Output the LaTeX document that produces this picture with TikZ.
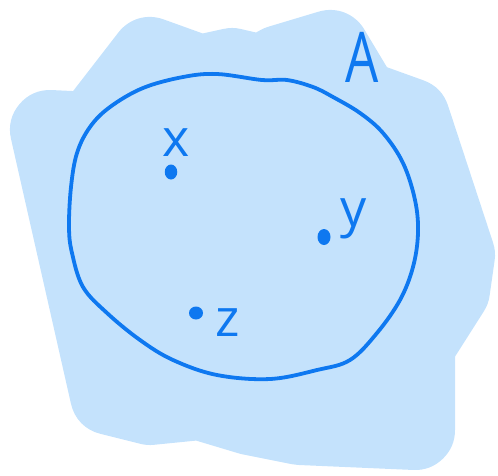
\documentclass[tikz,border=0pt]{standalone}
\usepackage{fontspec}
\setmainfont{Open Sans}
\usetikzlibrary{shapes.geometric}
\definecolor{blobblue}{RGB}{196,226,252}
\definecolor{penblue}{RGB}{14,120,240}
\tikzset{
  blob/.style={fill=blobblue, draw=blobblue, line width=80pt, line join=round},
  rim/.style={draw=penblue, line width=3.8pt, line join=round},
  pointdot/.style={ellipse, fill=penblue, inner sep=0pt},
  lowlabel/.style={text=penblue, inner sep=0pt, anchor=base, font=\fontsize{52}{52}\selectfont},
  biglabel/.style={text=penblue, inner sep=0pt, anchor=base, xscale=0.75, font=\fontsize{70}{70}\selectfont}
}
\begin{document}
\begin{tikzpicture}[x=1pt,y=-1pt]
\useasboundingbox (0,0) rectangle (498,475);
% background blob
\filldraw[blob] (50,130) -- (92,132) -- (150,57) -- (200,75) -- (232,68) -- (262,75) -- (280,65) -- (330,50)
  -- (360,100) -- (410,118) -- (455,255) -- (450,290) -- (415,345) -- (415,430)
  -- (300,425) -- (250,415) -- (200,400) -- (150,405) -- (110,395) -- cycle;
% set boundary
\draw[rim] plot[smooth cycle, tension=0.6] coordinates {
  (262,80) (217,74) (183,77) (143,88) (110,107) (90,127) (77,153) (71,187)
  (69,227) (72,253) (83,287) (107,313) (140,340) (173,360) (217,375) (270,379)
  (317,370) (350,360) (377,333) (400,300) (413,267) (418,233) (415,200)
  (403,163) (383,133) (360,113) (333,97) (313,87) (287,80)};
% points
\node[pointdot, minimum width=12.5pt, minimum height=15pt] (xdot) at (171,172) {};
\node[pointdot, minimum width=13pt, minimum height=16pt] (ydot) at (324,237) {};
\node[pointdot, minimum width=14pt, minimum height=13pt] (zdot) at (196,313) {};
% labels
\node[lowlabel] (xlab) at (176,156) {x};
\node[lowlabel] (ylab) at (354,226) {y};
\node[lowlabel] (zlab) at (228,336) {z};
\node[biglabel] (alab) at (362,82) {A};
\end{tikzpicture}
\end{document}
